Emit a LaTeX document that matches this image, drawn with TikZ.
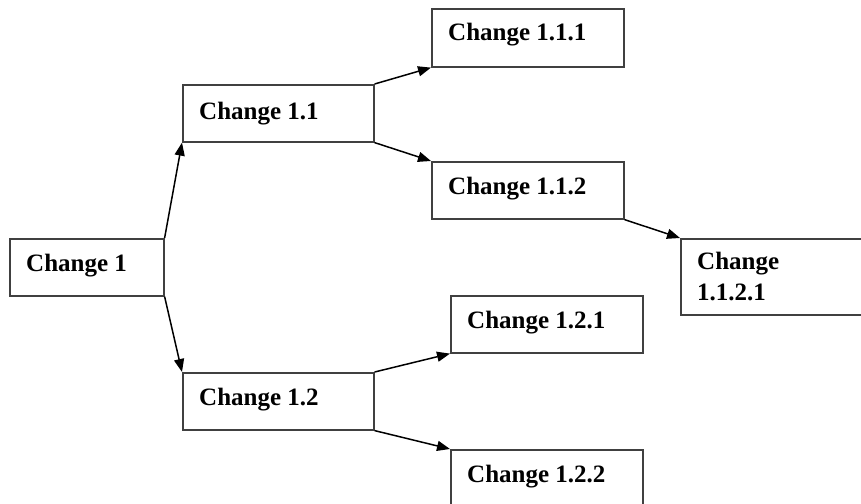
\documentclass[tikz,border=0pt]{standalone}
\usepackage{fontspec}
\setmainfont{Liberation Serif}
\usetikzlibrary{arrows.meta}
\begin{document}
\begin{tikzpicture}[x=1pt,y=-1pt,
  box/.style={draw=black!75, line width=1.6pt, fill=white, rectangle, inner sep=0pt, anchor=north west},
  lbl/.style={anchor=base west, inner sep=0pt, font=\fontsize{25}{31}\selectfont\bfseries, align=left},
  conn/.style={draw=black, line width=1.5pt, -{Triangle[length=13pt,width=10pt]}, shorten >=0pt}]
\clip (0,0) rectangle (861,503);
\fill[white] (0,0) rectangle (861,503);
% boxes
\node[box, minimum width=154pt, minimum height=57pt] (b1) at (9,238) {};
\node[box, minimum width=191pt, minimum height=57pt] (b11) at (182,84) {};
\node[box, minimum width=192pt, minimum height=58pt] (b111) at (431,8) {};
\node[box, minimum width=192pt, minimum height=57pt] (b112) at (431,161) {};
\node[box, minimum width=200pt, minimum height=76pt] (b1121) at (680,238) {};
\node[box, minimum width=191pt, minimum height=57pt] (b12) at (182,372) {};
\node[box, minimum width=192pt, minimum height=57pt] (b121) at (450,295) {};
\node[box, minimum width=192pt, minimum height=70pt] (b122) at (450,449) {};
% labels
\node[lbl] (t1) at (26,271) {Change 1};
\node[lbl] (t11) at (199,119) {Change 1.1};
\node[lbl] (t111) at (448,41) {Change 1.1.1};
\node[lbl] (t112) at (448,194) {Change 1.1.2};
\node[lbl] (t1121a) at (697,269) {Change};
\node[lbl] (t1121b) at (697,300) {1.1.2.1};
\node[lbl] (t12) at (199,405) {Change 1.2};
\node[lbl] (t121) at (467,328) {Change 1.2.1};
\node[lbl] (t122) at (467,482) {Change 1.2.2};
% connectors
\draw[conn] (b1.north east) -- (b11.south west);
\draw[conn] (b1.south east) -- (b12.north west);
\draw[conn] (b11.north east) -- (b111.south west);
\draw[conn] (b11.south east) -- (b112.north west);
\draw[conn] (b112.south east) -- (b1121.north west);
\draw[conn] (b12.north east) -- (b121.south west);
\draw[conn] (b12.south east) -- (b122.north west);
\end{tikzpicture}
\end{document}
